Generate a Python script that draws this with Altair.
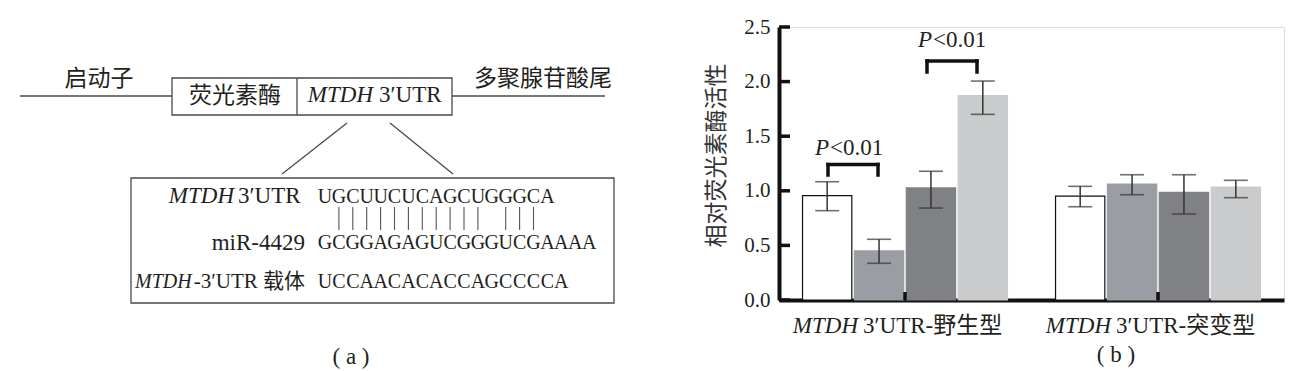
import altair as alt
import pandas as pd

FONT = "Liberation Serif, Times, DejaVu Serif, Noto Sans CJK SC, serif"
INK = "#231f20"
LINE = "#4a4a4a"

# ---------------- bar chart data (panel b) ----------------
groups = ["MTDH 3′UTR-野生型", "MTDH 3′UTR-突变型"]
group_gene = ["MTDH", "MTDH"]
group_rest = ["3′UTR-野生型", "3′UTR-突变型"]
series = ["mimics NC", "miR-4429 mimics", "inhibitor NC", "miR-4429 inhibitor"]
series_colors = ["#ffffff", "#9a9da3", "#808185", "#cacbcd"]
series_strokes = ["#111111", "#9a9da3", "#808185", "#cacbcd"]

values_wt = [0.955, 0.449, 1.026, 1.871]
low_wt = [0.818, 0.336, 0.842, 1.700]
high_wt = [1.083, 0.556, 1.179, 2.005]
values_mut = [0.952, 1.062, 0.986, 1.035]
low_mut = [0.854, 0.964, 0.788, 0.937]
high_mut = [1.041, 1.147, 1.147, 1.096]

y_ticks = [0.0, 0.5, 1.0, 1.5, 2.0, 2.5]
y_title = "相对荧光素酶活性"

# ---------------- diagram text (panel a) ----------------
seq_utr = "UGCUUCUCAGCUGGGCA"
seq_mir = "GCGGAGAGUCGGGUCGAAAA"
seq_vec = "UCCAACACACCAGCCCCA"
pair_idx = [1, 2, 3, 4, 5, 6, 7, 8, 9, 10, 11, 13, 14, 15]

# ---------------- build bar table ----------------
rows = []
for g, vals, lo, hi in [(groups[0], values_wt, low_wt, high_wt),
                        (groups[1], values_mut, low_mut, high_mut)]:
    for s, v, l, h in zip(series, vals, lo, hi):
        rows.append({"group": g, "series": s, "value": v, "low": l, "high": h})
bar_df = pd.DataFrame(rows)
grp_df = pd.DataFrame({"group": groups, "gene": group_gene, "rest": group_rest})
tick_df = pd.DataFrame({"t": y_ticks})

W, H = 505, 273
PAD_L, PAD_T = 779, 27

xscale = alt.Scale(paddingInner=0.19, paddingOuter=0.093)
xaxis = alt.Axis(labels=False, ticks=False, title=None, domainWidth=4,
                 domainColor="#111111", grid=False)
yscale = alt.Scale(domain=[0, 2.5], nice=False)
yaxis = alt.Axis(values=y_ticks, format=".1f", ticks=False, tickSize=0,
                 labelPadding=9, labelFont=FONT, labelFontSize=21,
                 labelColor=INK, domainWidth=4, domainColor="#111111",
                 grid=False, title=y_title, titleFont=FONT, titleFontSize=23,
                 titleFontWeight="normal", titleColor="#333333",
                 titleX=-63, titleY=128, titleAlign="center",
                 titleBaseline="middle")

X = alt.X("group:N", sort=groups, scale=xscale, axis=xaxis)
XO = alt.XOffset("series:N", sort=series,
                 scale=alt.Scale(paddingInner=0.05, paddingOuter=0))

def Yf(field):
    return alt.Y(field, type="quantitative", scale=yscale, axis=yaxis)

bars = alt.Chart(bar_df).mark_bar(strokeWidth=1.2).encode(
    x=X, xOffset=XO, y=Yf("value"),
    fill=alt.Fill("series:N", scale=alt.Scale(domain=series, range=series_colors), legend=None),
    stroke=alt.Stroke("series:N", scale=alt.Scale(domain=series, range=series_strokes), legend=None),
)
err = alt.Chart(bar_df).mark_rule(color="#333333", strokeWidth=1.5).encode(
    x=X, xOffset=XO, y=Yf("low"), y2="high")
cap_lo = alt.Chart(bar_df).mark_tick(color="#333333", thickness=1.6, size=24,
                                     orient="horizontal").encode(x=X, xOffset=XO, y=Yf("low"))
cap_hi = alt.Chart(bar_df).mark_tick(color="#333333", thickness=1.6, size=24,
                                     orient="horizontal").encode(x=X, xOffset=XO, y=Yf("high"))
yt = alt.Chart(tick_df).mark_rule(color="#111111", strokeWidth=3.5).encode(
    y=Yf("t"), x=alt.value(0), x2=alt.value(11))
gt = alt.Chart(grp_df).mark_rule(color="#111111", strokeWidth=3.5).encode(
    x=X, y=alt.value(H), y2=alt.value(H - 8))
gl1 = alt.Chart(grp_df).mark_text(font=FONT, fontSize=23, fontStyle="italic",
                                  align="right", baseline="alphabetic", dx=-47,
                                  color=INK).encode(x=X, y=alt.value(306), text="gene:N")
gl2 = alt.Chart(grp_df).mark_text(font=FONT, fontSize=23, align="left",
                                  baseline="alphabetic", dx=-42,
                                  color=INK).encode(x=X, y=alt.value(306), text="rest:N")

L1 = alt.layer(bars, err, cap_lo, cap_hi, yt, gt, gl1, gl2)

# ---------------- diagram layers in page-pixel scales ----------------
PX = alt.Scale(domain=[0, 1296], range=[-PAD_L, 1296 - PAD_L], nice=False, zero=False)
PY = alt.Scale(domain=[0, 371], range=[-PAD_T, 371 - PAD_T], nice=False, zero=False)

def px(f):
    return alt.X(f, type="quantitative", scale=PX, axis=None)

def py(f):
    return alt.Y(f, type="quantitative", scale=PY, axis=None)

layout_segments = pd.DataFrame([
    {"x": 20, "y": 96, "x2": 172, "y2": 96},
    {"x": 452, "y": 96, "x2": 605, "y2": 96},
    {"x": 297, "y": 78, "x2": 297, "y2": 115},
    {"x": 347, "y": 123, "x2": 282, "y2": 174},
    {"x": 390, "y": 123, "x2": 453, "y2": 174},
])
layout_boxes = pd.DataFrame([
    {"x": 172, "y": 78, "x2": 452, "y2": 115},
    {"x": 131, "y": 178, "x2": 614, "y2": 303},
])
layout_brackets = pd.DataFrame([
    {"x": 828, "y": 164.5, "x2": 878, "y2": 164.5},
    {"x": 828, "y": 164.5, "x2": 828, "y2": 175},
    {"x": 878, "y": 164.5, "x2": 878, "y2": 175},
    {"x": 927, "y": 61, "x2": 977, "y2": 61},
    {"x": 927, "y": 61, "x2": 927, "y2": 72},
    {"x": 977, "y": 61, "x2": 977, "y2": 72},
])

segs = alt.Chart(layout_segments).mark_rule(color=LINE, strokeWidth=1.3).encode(
    x=px("x"), y=py("y"), x2="x2", y2="y2")
boxes = alt.Chart(layout_boxes).mark_rect(fillOpacity=0, stroke=LINE, strokeWidth=1.3).encode(
    x=px("x"), y=py("y"), x2="x2", y2="y2")
brk = alt.Chart(layout_brackets).mark_rule(color="#111111", strokeWidth=3.5,
                                           strokeCap="square").encode(
    x=px("x"), y=py("y"), x2="x2", y2="y2")

def texts(items, size=23, italic=False, align="left", baseline="alphabetic"):
    df = pd.DataFrame(items, columns=["label", "x", "y"])
    kw = dict(font=FONT, fontSize=size, align=align, baseline=baseline, color=INK)
    if italic:
        kw["fontStyle"] = "italic"
    return alt.Chart(df).mark_text(**kw).encode(x=px("x"), y=py("y"), text="label:N")

t_cjk = texts([("启动子", 99, 79), ("多聚腺苷酸尾", 543, 79), ("荧光素酶", 235, 96)],
              align="center", baseline="middle")
t_it_r = texts([("MTDH", 373, 102), ("MTDH", 234, 203), ("P", 829, 155), ("P", 932, 47)],
               italic=True, align="right")
t_up_l = texts([("3′UTR", 379, 102), ("3′UTR", 238, 203),
                ("<0.01", 830, 155), ("<0.01", 933, 47)], align="left")
t_vec_rest = texts([("-3′UTR 载体", 305, 288)], size=21, align="right")
t_it_l = texts([("MTDH", 135, 288)], size=20, italic=True, align="left")
t_up_r = texts([("miR-4429", 305, 250)], align="right")
t_pan = texts([("(  a  )", 351, 357), ("(  b  )", 1116, 355)], size=23,
              align="center", baseline="middle")

letters = []
for seq, base_y in [(seq_utr, 203), (seq_mir, 249), (seq_vec, 288)]:
    for i, ch in enumerate(seq):
        letters.append({"ch": ch, "i": i, "row_y": base_y})
let_df = pd.DataFrame(letters)
t_seq = alt.Chart(let_df).transform_calculate(
    xx="325 + 13.9 * datum.i").mark_text(
    font=FONT, fontSize=20, align="center", baseline="alphabetic", color=INK).encode(
    x=px("xx"), y=py("row_y"), text="ch:N")

pair_df = pd.DataFrame({"i": pair_idx})
pairs = alt.Chart(pair_df).transform_calculate(
    xx="325 + 13.9 * datum.i", ya="207", yb="230").mark_rule(
    color="#555555", strokeWidth=1.1).encode(
    x=px("xx"), y=py("ya"), y2="yb")

L2 = alt.layer(segs, boxes, brk, t_cjk, t_it_r, t_up_l, t_vec_rest, t_it_l, t_up_r,
               t_pan, t_seq, pairs)

chart = alt.layer(L1, L2).resolve_scale(x="independent", y="independent").properties(
    width=W, height=H,
    padding={"left": PAD_L, "top": PAD_T, "right": 1296 - PAD_L - W, "bottom": 371 - PAD_T - H},
    autosize=alt.AutoSizeParams(type="none"),
).configure_view(stroke=None).configure(background="white")

chart.save("out.html", embed_options={"renderer": "svg", "actions": False})
